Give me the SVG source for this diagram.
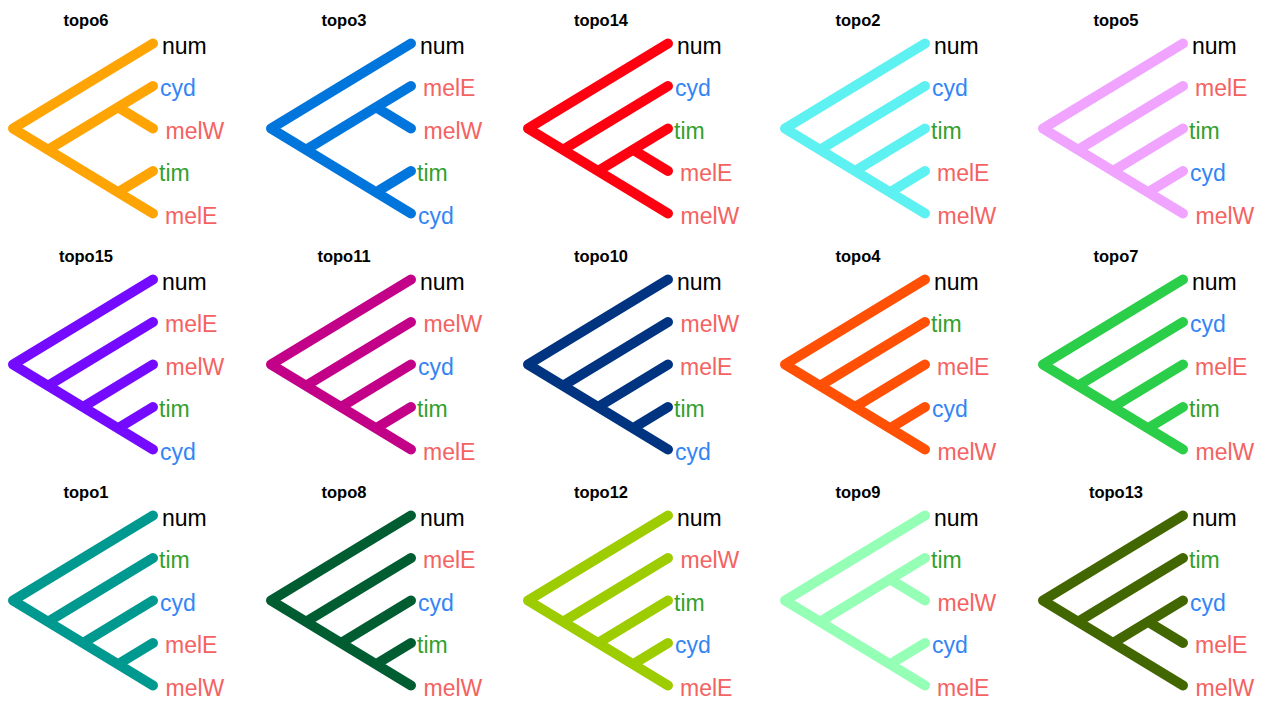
<svg xmlns="http://www.w3.org/2000/svg" width="1268" height="702" viewBox="0 0 1268 702">
<defs>
<style>
.e{fill:none;stroke-width:10;stroke-linecap:round;stroke-linejoin:round}
.t{font-family:"Liberation Sans",Arial,Helvetica,sans-serif;font-weight:bold;font-size:16.5px;fill:#000;text-anchor:middle}
.l{font-family:"Liberation Sans",Arial,Helvetica,sans-serif;font-size:23px}
.num{fill:#000}.cyd{fill:#3385F5}.tim{fill:#33A02C}.mel{fill:#F46262}
</style>
<g id="A"><path d="M153 43.5L13 128.5L153 213.5M48 149.75L153 86M118 107.25L153 128.5M118 192.25L153 171"/></g>
<g id="B"><path d="M153 43.5L13 128.5L153 213.5M48 149.75L153 86M83 171L153 128.5M118 192.25L153 171"/></g>
<g id="C"><path d="M153 43.5L13 128.5L153 213.5M48 149.75L153 86M83 171L153 128.5M118 149.75L153 171"/></g>
</defs>
<rect width="1268" height="702" fill="#fff"/>
<g id="connectors">
<use href="#A" class="e" stroke="#FFA405"/>
<use href="#A" class="e" stroke="#0075DC" x="258"/>
<use href="#C" class="e" stroke="#FF0010" x="515"/>
<use href="#B" class="e" stroke="#5EF1F2" x="772"/>
<use href="#B" class="e" stroke="#F0A3FF" x="1030"/>
<use href="#B" class="e" stroke="#740AFF" y="236"/>
<use href="#B" class="e" stroke="#C20088" x="258" y="236"/>
<use href="#B" class="e" stroke="#003380" x="515" y="236"/>
<use href="#B" class="e" stroke="#FF5005" x="772" y="236"/>
<use href="#B" class="e" stroke="#2BCE48" x="1030" y="236"/>
<use href="#B" class="e" stroke="#00998F" y="472"/>
<use href="#B" class="e" stroke="#005C31" x="258" y="472"/>
<use href="#B" class="e" stroke="#9DCC00" x="515" y="472"/>
<use href="#A" class="e" stroke="#94FFB5" x="772" y="472"/>
<use href="#C" class="e" stroke="#426600" x="1030" y="472"/>
</g>
<g id="topo6" class="l"><text class="t" x="86" y="25.5">topo6</text><text class="num" x="162" y="53.5">num</text><text class="cyd" x="160" y="96">cyd</text><text class="mel" x="165.5" y="138.5">melW</text><text class="tim" x="159" y="181">tim</text><text class="mel" x="165" y="223.5">melE</text></g>
<g id="topo3" class="l" transform="translate(258,0)"><text class="t" x="86" y="25.5">topo3</text><text class="num" x="162" y="53.5">num</text><text class="mel" x="165" y="96">melE</text><text class="mel" x="165.5" y="138.5">melW</text><text class="tim" x="159" y="181">tim</text><text class="cyd" x="160" y="223.5">cyd</text></g>
<g id="topo14" class="l" transform="translate(515,0)"><text class="t" x="86" y="25.5">topo14</text><text class="num" x="162" y="53.5">num</text><text class="cyd" x="160" y="96">cyd</text><text class="tim" x="159" y="138.5">tim</text><text class="mel" x="165" y="181">melE</text><text class="mel" x="165.5" y="223.5">melW</text></g>
<g id="topo2" class="l" transform="translate(772,0)"><text class="t" x="86" y="25.5">topo2</text><text class="num" x="162" y="53.5">num</text><text class="cyd" x="160" y="96">cyd</text><text class="tim" x="159" y="138.5">tim</text><text class="mel" x="165" y="181">melE</text><text class="mel" x="165.5" y="223.5">melW</text></g>
<g id="topo5" class="l" transform="translate(1030,0)"><text class="t" x="86" y="25.5">topo5</text><text class="num" x="162" y="53.5">num</text><text class="mel" x="165" y="96">melE</text><text class="tim" x="159" y="138.5">tim</text><text class="cyd" x="160" y="181">cyd</text><text class="mel" x="165.5" y="223.5">melW</text></g>
<g id="topo15" class="l" transform="translate(0,236)"><text class="t" x="86" y="25.5">topo15</text><text class="num" x="162" y="53.5">num</text><text class="mel" x="165" y="96">melE</text><text class="mel" x="165.5" y="138.5">melW</text><text class="tim" x="159" y="181">tim</text><text class="cyd" x="160" y="223.5">cyd</text></g>
<g id="topo11" class="l" transform="translate(258,236)"><text class="t" x="86" y="25.5">topo11</text><text class="num" x="162" y="53.5">num</text><text class="mel" x="165.5" y="96">melW</text><text class="cyd" x="160" y="138.5">cyd</text><text class="tim" x="159" y="181">tim</text><text class="mel" x="165" y="223.5">melE</text></g>
<g id="topo10" class="l" transform="translate(515,236)"><text class="t" x="86" y="25.5">topo10</text><text class="num" x="162" y="53.5">num</text><text class="mel" x="165.5" y="96">melW</text><text class="mel" x="165" y="138.5">melE</text><text class="tim" x="159" y="181">tim</text><text class="cyd" x="160" y="223.5">cyd</text></g>
<g id="topo4" class="l" transform="translate(772,236)"><text class="t" x="86" y="25.5">topo4</text><text class="num" x="162" y="53.5">num</text><text class="tim" x="159" y="96">tim</text><text class="mel" x="165" y="138.5">melE</text><text class="cyd" x="160" y="181">cyd</text><text class="mel" x="165.5" y="223.5">melW</text></g>
<g id="topo7" class="l" transform="translate(1030,236)"><text class="t" x="86" y="25.5">topo7</text><text class="num" x="162" y="53.5">num</text><text class="cyd" x="160" y="96">cyd</text><text class="mel" x="165" y="138.5">melE</text><text class="tim" x="159" y="181">tim</text><text class="mel" x="165.5" y="223.5">melW</text></g>
<g id="topo1" class="l" transform="translate(0,472)"><text class="t" x="86" y="25.5">topo1</text><text class="num" x="162" y="53.5">num</text><text class="tim" x="159" y="96">tim</text><text class="cyd" x="160" y="138.5">cyd</text><text class="mel" x="165" y="181">melE</text><text class="mel" x="165.5" y="223.5">melW</text></g>
<g id="topo8" class="l" transform="translate(258,472)"><text class="t" x="86" y="25.5">topo8</text><text class="num" x="162" y="53.5">num</text><text class="mel" x="165" y="96">melE</text><text class="cyd" x="160" y="138.5">cyd</text><text class="tim" x="159" y="181">tim</text><text class="mel" x="165.5" y="223.5">melW</text></g>
<g id="topo12" class="l" transform="translate(515,472)"><text class="t" x="86" y="25.5">topo12</text><text class="num" x="162" y="53.5">num</text><text class="mel" x="165.5" y="96">melW</text><text class="tim" x="159" y="138.5">tim</text><text class="cyd" x="160" y="181">cyd</text><text class="mel" x="165" y="223.5">melE</text></g>
<g id="topo9" class="l" transform="translate(772,472)"><text class="t" x="86" y="25.5">topo9</text><text class="num" x="162" y="53.5">num</text><text class="tim" x="159" y="96">tim</text><text class="mel" x="165.5" y="138.5">melW</text><text class="cyd" x="160" y="181">cyd</text><text class="mel" x="165" y="223.5">melE</text></g>
<g id="topo13" class="l" transform="translate(1030,472)"><text class="t" x="86" y="25.5">topo13</text><text class="num" x="162" y="53.5">num</text><text class="tim" x="159" y="96">tim</text><text class="cyd" x="160" y="138.5">cyd</text><text class="mel" x="165" y="181">melE</text><text class="mel" x="165.5" y="223.5">melW</text></g>
</svg>
